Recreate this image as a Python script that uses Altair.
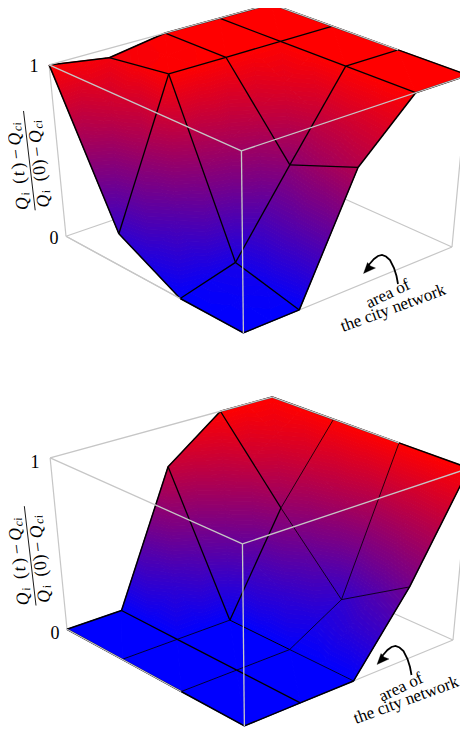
import numpy as np
import altair as alt
import pandas as pd

# Surface heights. Rows: steps from the front corner
# towards the left corner; columns: steps from the front corner towards the right corner.
Z_TOP = [
    [0.00, 0.00, 0.70, 1.00, 1.00],
    [0.00, 0.09, 0.55, 1.00, 1.00],
    [0.20, 1.00, 1.00, 1.00, 1.00],
    [1.00, 0.95, 1.00, 1.00, 1.00],
]
Z_BOTTOM = [
    [0.00, 0.00, 0.00, 0.44, 1.00],
    [0.00, 0.00, 0.00, 0.19, 1.00],
    [0.00, 0.00, 0.00, 0.58, 1.00],
    [0.00, 0.00, 0.77, 1.00, 1.00],
]
TICK_LABELS = ["1", "0"]
LABEL_LINES = ["area of", "the city network"]

# Camera fitted to the box corners of the reference
CAMERA = np.array([
    [-170.39754880506902, 253.02647143599958, -22.91613380290143, 243.39014272776237],
    [-71.58496668362386, -61.66051341270238, -195.1931291979939, 332.9335924845403],
    [0.10609037973510504, 0.09829316487159209, -0.08682882465442293, 1.0],
])
PAGE = 8
CHART_W, CHART_H = 452, 723
BLUE, RED = "#0000ff", "#ff0000"
GRAY = "#c6c6c6"
N_SUB = 2
BANDS = 64


def project(u, v, z, shift):
    h = CAMERA @ np.array([u, v, z, 1.0])
    return [round(float(h[0] / h[2] + shift[0] - PAGE), 2),
            round(float(h[1] / h[2] + shift[1] - PAGE), 2)]


def clip(poly, level, keep_above):
    out = []
    for k in range(len(poly)):
        a, b = poly[k], poly[(k + 1) % len(poly)]
        ina = a[2] >= level if keep_above else a[2] <= level
        inb = b[2] >= level if keep_above else b[2] <= level
        if ina:
            out.append(a)
        if ina != inb:
            t = (level - a[2]) / (b[2] - a[2])
            out.append(tuple(a[m] + t * (b[m] - a[m]) for m in range(3)))
    return out


def surface(Z, shift):
    tris = []
    nr, nc = len(Z), len(Z[0])
    for i in range(nr - 1):
        for j in range(nc - 1):
            q = [Z[i][j], Z[i + 1][j], Z[i + 1][j + 1], Z[i][j + 1]]
            n = 1 if max(q) - min(q) < 1e-9 else N_SUB

            def pt(a, b):
                aa, bb = a / n, b / n
                zz = (q[0] * (1 - aa) * (1 - bb) + q[1] * aa * (1 - bb)
                      + q[2] * aa * bb + q[3] * (1 - aa) * bb)
                return ((i + aa) / (nr - 1), (j + bb) / (nc - 1), zz)

            for a in range(n):
                for b in range(n):
                    p00, p10, p11, p01 = pt(a, b), pt(a + 1, b), pt(a + 1, b + 1), pt(a, b + 1)
                    tris.append([p00, p10, p11])
                    tris.append([p00, p11, p01])

    def depth(t):
        c = np.mean(np.array(t), axis=0)
        return -float(CAMERA[2] @ np.array([c[0], c[1], c[2], 1.0]))

    tris.sort(key=depth)
    feats = []
    for t in tris:
        zs = [p[2] for p in t]
        lo, hi = min(zs), max(zs)
        if hi - lo < 1e-9:
            polys = [(list(t), lo)]
        else:
            polys = []
            for k in range(int(lo * BANDS), min(int(np.ceil(hi * BANDS)), BANDS)):
                a, b = k / BANDS, (k + 1) / BANDS
                poly = clip(clip(list(t), a, True), b, False)
                if len(poly) >= 3:
                    polys.append((poly, (a + b) / 2))
        for poly, zc in polys:
            ring = [project(*p, shift) for p in poly]
            ring.append(ring[0])
            feats.append({"type": "Feature", "properties": {"z": round(zc, 4)},
                          "geometry": {"type": "Polygon", "coordinates": [ring]}})
    return feats


def line(points, color, width):
    return {"type": "Feature", "properties": {"c": color, "w": width},
            "geometry": {"type": "LineString", "coordinates": points}}


def panel_lines(Z, shift, bottom_panel):
    nr, nc = len(Z), len(Z[0])
    node = lambda i, j: project(i / (nr - 1), j / (nc - 1), Z[i][j], shift)
    corner = lambda u, v, z: project(u, v, z, shift)
    L0, F0, R0, B0 = corner(1, 0, 0), corner(0, 0, 0), corner(0, 1, 0), corner(1, 1, 0)
    L1, F1, R1, B1 = corner(1, 0, 1), corner(0, 0, 1), corner(0, 1, 1), corner(1, 1, 1)
    back = [line(p, GRAY, 1.2) for p in (
        [L1, L0], [R1, R0], [L0, B0], [R0, B0], [L0, F0], [F0, R0], [B1, B0])]
    black = []
    strong = 1.5
    thin = 0.8 if bottom_panel else 1.3
    for i in range(nr):
        for j in range(nc - 1):
            edge = i in (0, nr - 1)
            w = strong if edge else thin
            if bottom_panel and (i, j) == (2, 2):
                w = 1.3
            black.append(line([node(i, j), node(i, j + 1)], "#000000", w))
    for j in range(nc):
        for i in range(nr - 1):
            edge = j in (0, nc - 1)
            w = strong if edge else thin
            if bottom_panel and (j == 1 or (j in (2, 3) and i == 2)):
                w = 1.3
            if bottom_panel and (j, i) == (2, 1):
                w = 1.0
            black.append(line([node(i, j), node(i + 1, j)], "#000000", w))
    front = [line(p, GRAY, 1.3) for p in (
        [L1, B1], [B1, node(1, nc - 1)], [L0, node(1, 0)],
        [F1, L1], [F1, R1], [F1, F0])]
    return back, black, front


# Annotation arrow: shaft and head, relative to the top panel
ARROW_SHAFT = [(398, 284), (396.5, 276), (394, 268), (390, 260), (386, 256.5), (382, 255), (378, 256),
               (374, 259), (370, 263.5), (367, 267)]
ARROW_HEAD = [(363.5, 273.5), (367.5, 262.5), (370.5, 266), (375.5, 268)]
FRAC_ANGLE = 263.3
E = (np.cos(np.radians(FRAC_ANGLE)), np.sin(np.radians(FRAC_ANGLE)))
N = (E[1], -E[0])

# Formula pieces: text, along-bar offset, offset above the bar, size, italic
FORMULA = [
    ("Q", 1.5, 6.5, 18, True), ("i", 15.5, 4, 12, True),
    ("(", 28, 6.5, 18, False), ("t", 35.5, 6.5, 18, True), (")", 43, 6.5, 18, False),
    ("\u2212", 53, 6.5, 18, False),
    ("Q", 66.5, 6.5, 18, True), ("c", 80.5, 4, 12, True), ("i", 86, 4, 12, True),
    ("Q", 1.5, -14.5, 18, True), ("i", 15.5, -17, 12, True),
    ("(", 28, -14.5, 18, False), ("0", 34.5, -14.5, 18, False), (")", 44, -14.5, 18, False),
    ("\u2212", 53, -14.5, 18, False),
    ("Q", 66.5, -14.5, 18, True), ("c", 80.5, -17, 12, True), ("i", 86, -17, 12, True),
]
ORIGINS = [(35.2, 210.3), (36, 605.5)]

patches, backs, blacks, fronts, solids = [], [], [], [], []
roman_rows, italic_rows = [], []
PANELS = [
    (Z_TOP, (0, 0), False, (34, 72), (54, 244), (369, 308.5), (343, 332), (0, 0)),
    (Z_BOTTOM, (1, 393), True, (35, 467.5), (55, 639), (382, 702), (356, 724), (13.5, 391)),
]
for idx, (Z, shift, is_bottom, p1, p0, area_at, city_at, arrow_shift) in enumerate(PANELS):
    patches += surface(Z, shift)
    b, k, f = panel_lines(Z, shift, is_bottom)
    backs += b
    blacks += k
    fronts += f
    roman_rows.append(dict(text=TICK_LABELS[0], x=p1[0] - PAGE, y=p1[1] - PAGE, size=18, angle=0, align="center"))
    roman_rows.append(dict(text=TICK_LABELS[1], x=p0[0] - PAGE, y=p0[1] - PAGE, size=18, angle=0, align="center"))
    roman_rows.append(dict(text=LABEL_LINES[0], x=area_at[0] - PAGE, y=area_at[1] - PAGE, size=17, angle=334.5, align="left"))
    roman_rows.append(dict(text=LABEL_LINES[1], x=city_at[0] - PAGE, y=city_at[1] - PAGE, size=17, angle=339.8, align="left"))
    ox, oy = ORIGINS[idx]
    blacks.append(line([[round(ox - PAGE, 2), round(oy - PAGE, 2)],
                        [round(ox + 100 * E[0] - PAGE, 2), round(oy + 100 * E[1] - PAGE, 2)]], "#000000", 0.9))
    for txt, s, t, size, ital in FORMULA:
        row = dict(text=txt, x=ox + s * E[0] + t * N[0] - PAGE, y=oy + s * E[1] + t * N[1] - PAGE,
                   size=size, angle=FRAC_ANGLE, align="left")
        (italic_rows if ital else roman_rows).append(row)
    sx, sy = arrow_shift
    blacks.append(line([[x + sx - PAGE, y + sy - PAGE] for x, y in ARROW_SHAFT], "#000000", 1.8))
    ring = [[x + sx - PAGE, y + sy - PAGE] for x, y in ARROW_HEAD]
    ring.append(ring[0])
    solids.append({"type": "Feature", "properties": {},
                   "geometry": {"type": "Polygon", "coordinates": [ring]}})

colour_scale = alt.Scale(domain=[0, 1], range=[BLUE, RED], interpolate="rgb")
PROJ = dict(type="identity", scale=1, translate=[0, 0])


def stroke_layer(features):
    return alt.Chart(alt.InlineData(values=features)).mark_geoshape(filled=False).encode(
        stroke=alt.Stroke("properties.c:N", scale=None, legend=None),
        strokeWidth=alt.StrokeWidth("properties.w:Q", scale=None, legend=None),
    ).project(**PROJ)


surface_layer = alt.Chart(alt.InlineData(values=patches)).mark_geoshape(strokeWidth=1, opacity=1).encode(
    color=alt.Color("properties.z:Q", scale=colour_scale, legend=None),
    stroke=alt.Stroke("properties.z:Q", scale=colour_scale, legend=None),
).project(**PROJ)

head_layer = alt.Chart(alt.InlineData(values=solids)).mark_geoshape(
    fill="#000000", stroke="#000000", strokeWidth=0.3
).project(**PROJ)


def simple_text_layer(rows, style):
    layers = []
    for al in sorted({r["align"] for r in rows}):
        sub = [r for r in rows if r["align"] == al]
        kwargs = dict(font="Liberation Serif", baseline="alphabetic", color="#000000", align=al)
        if style:
            kwargs["fontStyle"] = style
        layers.append(alt.Chart(pd.DataFrame(sub)).mark_text(**kwargs).encode(
            x=alt.X("x:Q", scale=None, axis=None),
            y=alt.Y("y:Q", scale=None, axis=None),
            text="text:N",
            size=alt.Size("size:Q", scale=None, legend=None),
            angle=alt.Angle("angle:Q", scale=None, legend=None),
        ))
    return layers


chart = alt.layer(
    stroke_layer(backs),
    surface_layer,
    stroke_layer(blacks),
    head_layer,
    stroke_layer(fronts),
    *simple_text_layer(roman_rows, None),
    *simple_text_layer(italic_rows, "italic"),
).resolve_scale(color="independent", stroke="independent").properties(
    width=CHART_W, height=CHART_H, padding=0, autosize=alt.AutoSizeParams(type="none")
).configure_view(stroke=None)

chart.save("out.html", embed_options={"renderer": "svg", "actions": False})
